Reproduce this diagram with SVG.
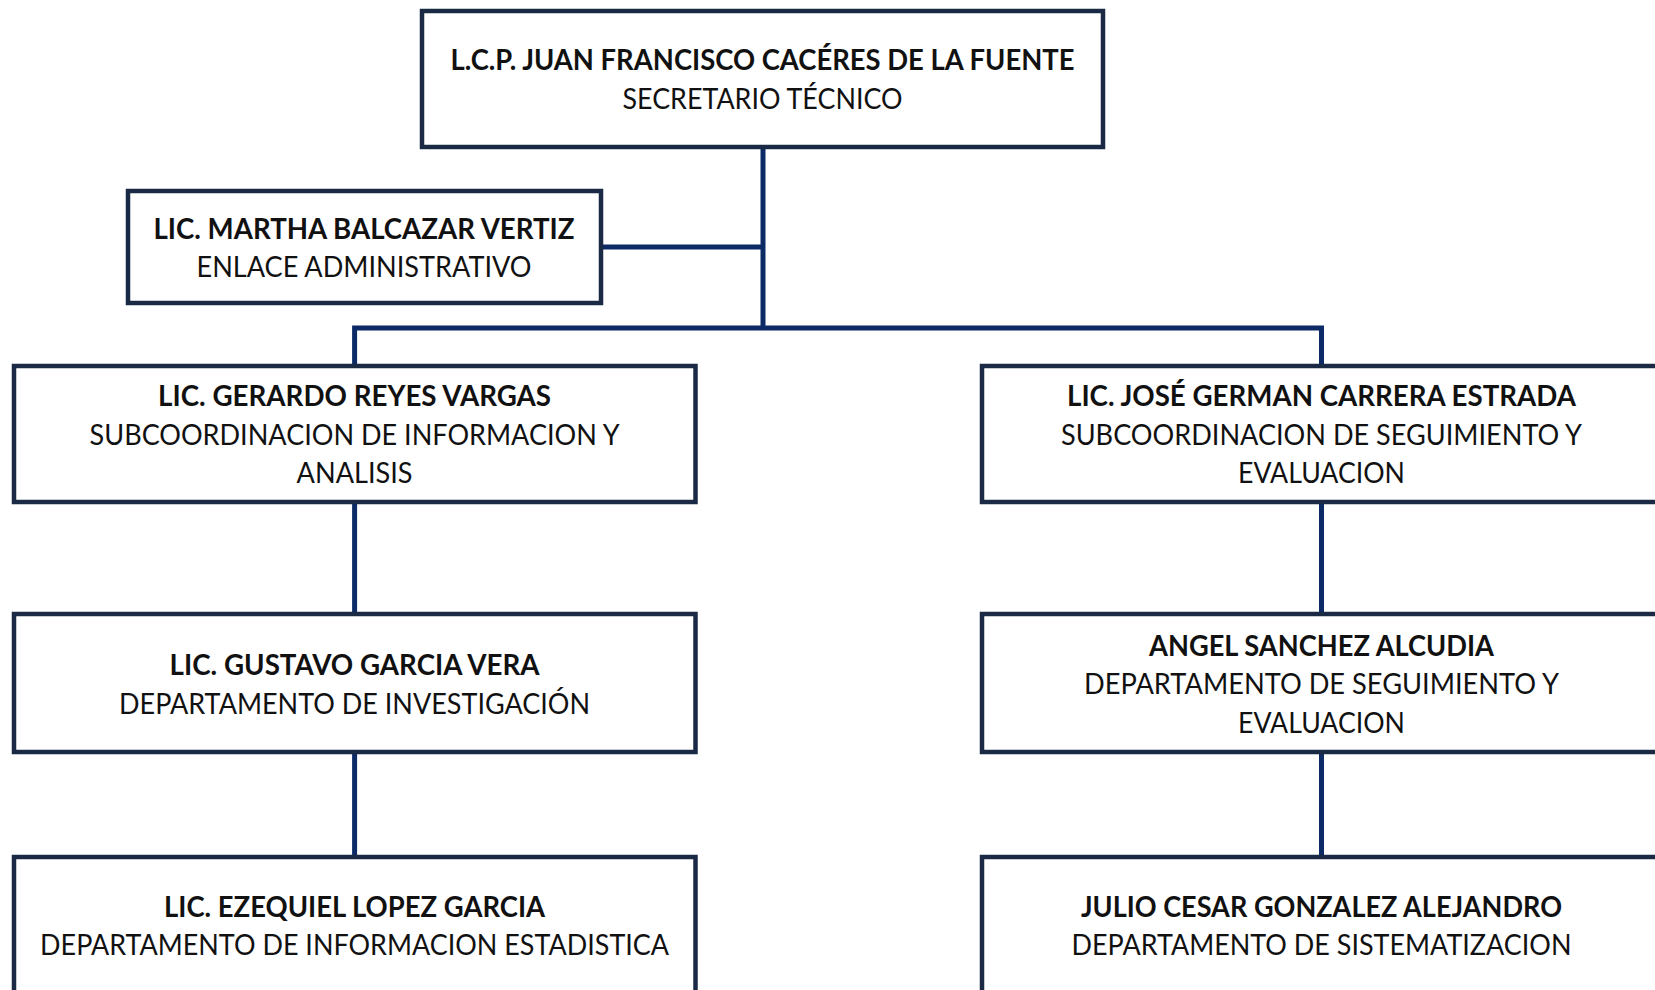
<svg xmlns="http://www.w3.org/2000/svg" width="1655" height="990" viewBox="0 0 1655 990">
<style>
.box{fill:#fff;stroke:#1a2a44;stroke-width:4.5}
.con{fill:none;stroke:#0c2a66;stroke-width:5}
text{font-family:Lato,"Liberation Sans",sans-serif;font-size:28px;fill:#111;text-anchor:middle}
.b{font-weight:bold}
</style>
<rect width="1655" height="990" fill="#fff"/>
<g id="connectors">
<path class="con" d="M763 147 V328"/>
<path class="con" d="M601 247 H763"/>
<path class="con" d="M354.6 366 V328 H1321.5 V366"/>
<path class="con" d="M354.6 502 V614"/>
<path class="con" d="M354.6 752 V857"/>
<path class="con" d="M1321.5 502 V614"/>
<path class="con" d="M1321.5 752 V857"/>
</g>
<g id="secretario">
<rect class="box" x="422" y="11" width="681" height="136"/>
<text class="b" x="762.5" y="70" textLength="624" lengthAdjust="spacingAndGlyphs">L.C.P. JUAN FRANCISCO CACÉRES DE LA FUENTE</text>
<text x="762.5" y="109" textLength="280" lengthAdjust="spacingAndGlyphs">SECRETARIO TÉCNICO</text>
</g>
<g id="enlace">
<rect class="box" x="128" y="191" width="473" height="112"/>
<text class="b" x="364" y="239" textLength="421" lengthAdjust="spacingAndGlyphs">LIC. MARTHA BALCAZAR VERTIZ</text>
<text x="364" y="277" textLength="335" lengthAdjust="spacingAndGlyphs">ENLACE ADMINISTRATIVO</text>
</g>
<g id="subinfo">
<rect class="box" x="14" y="366" width="681.5" height="136"/>
<text class="b" x="354.6" y="406" textLength="393" lengthAdjust="spacingAndGlyphs">LIC. GERARDO REYES VARGAS</text>
<text x="354.6" y="445" textLength="530" lengthAdjust="spacingAndGlyphs">SUBCOORDINACION DE INFORMACION Y</text>
<text x="354.6" y="483" textLength="116" lengthAdjust="spacingAndGlyphs">ANALISIS</text>
</g>
<g id="subseg">
<rect class="box" x="982" y="366" width="681" height="136"/>
<text class="b" x="1321.5" y="406" textLength="509" lengthAdjust="spacingAndGlyphs">LIC. JOSÉ GERMAN CARRERA ESTRADA</text>
<text x="1321.5" y="445" textLength="521" lengthAdjust="spacingAndGlyphs">SUBCOORDINACION DE SEGUIMIENTO Y</text>
<text x="1321.5" y="483" textLength="167" lengthAdjust="spacingAndGlyphs">EVALUACION</text>
</g>
<g id="investigacion">
<rect class="box" x="14" y="614" width="681.5" height="138"/>
<text class="b" x="354.6" y="675" textLength="370" lengthAdjust="spacingAndGlyphs">LIC. GUSTAVO GARCIA VERA</text>
<text x="354.6" y="714" textLength="471" lengthAdjust="spacingAndGlyphs">DEPARTAMENTO DE INVESTIGACIÓN</text>
</g>
<g id="seguimiento">
<rect class="box" x="982" y="614" width="681" height="138"/>
<text class="b" x="1321.5" y="656" textLength="345" lengthAdjust="spacingAndGlyphs">ANGEL SANCHEZ ALCUDIA</text>
<text x="1321.5" y="694" textLength="475" lengthAdjust="spacingAndGlyphs">DEPARTAMENTO DE SEGUIMIENTO Y</text>
<text x="1321.5" y="733" textLength="167" lengthAdjust="spacingAndGlyphs">EVALUACION</text>
</g>
<g id="estadistica">
<rect class="box" x="14" y="857" width="681.5" height="138"/>
<text class="b" x="354.6" y="917" textLength="381" lengthAdjust="spacingAndGlyphs">LIC. EZEQUIEL LOPEZ GARCIA</text>
<text x="354.6" y="955" textLength="629" lengthAdjust="spacingAndGlyphs">DEPARTAMENTO DE INFORMACION ESTADISTICA</text>
</g>
<g id="sistematizacion">
<rect class="box" x="982" y="857" width="681" height="138"/>
<text class="b" x="1321.5" y="917" textLength="481" lengthAdjust="spacingAndGlyphs">JULIO CESAR GONZALEZ ALEJANDRO</text>
<text x="1321.5" y="955" textLength="500" lengthAdjust="spacingAndGlyphs">DEPARTAMENTO DE SISTEMATIZACION</text>
</g>
</svg>
